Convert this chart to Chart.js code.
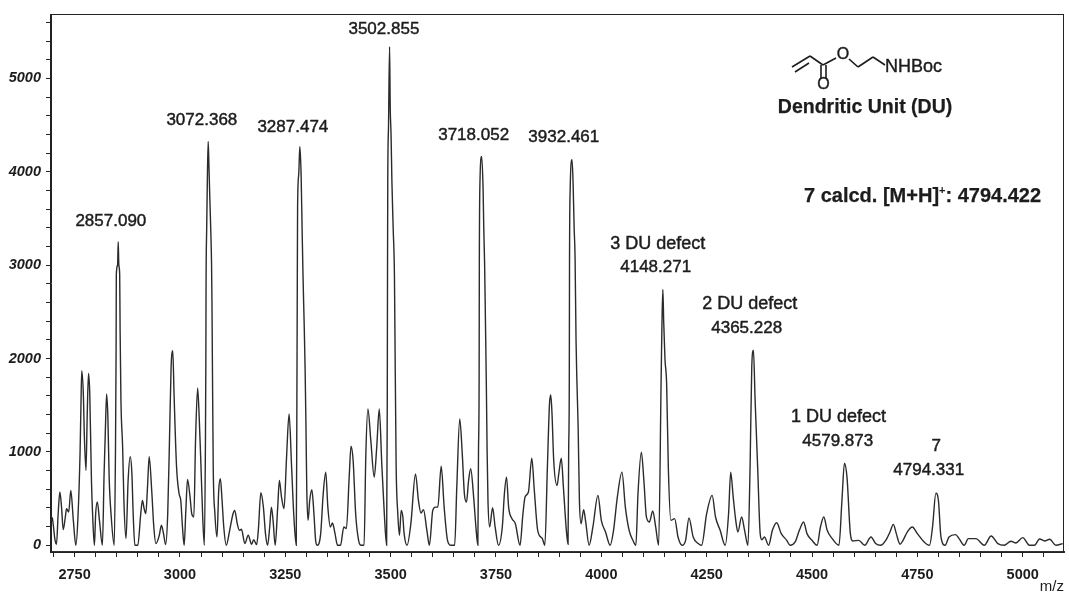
<!DOCTYPE html>
<html>
<head>
<meta charset="utf-8" />
<title>Mass spectrum</title>
<script src="https://cdn.jsdelivr.net/npm/chart.js@4"></script>
<style>
  body { margin: 0; background: #fff; }
  canvas { display: block; }
</style>
</head>
<body>
<canvas id="spectrum" width="1069" height="596"></canvas>
<script>
  // spectrum trace
  const mzValues = [
    2697, 2700, 2703, 2707, 2711, 2715, 2719, 2723, 2728, 2731,
    2736, 2741, 2747, 2753, 2758, 2763, 2765, 2767, 2771, 2773,
    2777, 2780, 2783, 2786, 2790, 2793, 2797, 2800, 2804, 2809,
    2816, 2820, 2823, 2826, 2829, 2832, 2837, 2844, 2847, 2848.5,
    2849, 2852, 2853.5, 2855, 2857, 2858, 2860, 2864, 2867, 2872, 2877, 2882,
    2886, 2889, 2893, 2900, 2907, 2911, 2915, 2919, 2923, 2927,
    2933, 2938, 2943, 2951, 2956, 2961, 2966, 2971, 2975, 2979,
    2983, 2986, 2992, 2998, 3002, 3006, 3010, 3014, 3018, 3024,
    3028, 3033, 3037, 3042, 3046, 3050, 3054, 3058, 3060.5, 3061.5, 3062,
    3063.5, 3065, 3067, 3069, 3071, 3073, 3075, 3076, 3077, 3079, 3083, 3088, 3092, 3096,
    3100, 3104, 3110, 3118, 3126, 3130, 3136, 3141, 3146, 3154,
    3162, 3170, 3175, 3182, 3186, 3192, 3198, 3203, 3208, 3213,
    3217, 3221, 3226, 3232, 3236, 3241, 3247, 3253, 3259, 3265,
    3270, 3276, 3277.5, 3278.5, 3279.2, 3282, 3284.5, 3287.5, 3290, 3292, 3295, 3297, 3299, 3301,
    3304, 3308, 3313, 3318, 3322, 3326, 3334, 3340, 3346, 3351,
    3357, 3362, 3368, 3374, 3381, 3389, 3395, 3402, 3406, 3411,
    3417, 3424, 3430, 3437, 3441, 3446, 3453, 3461, 3467, 3473,
    3479, 3485, 3490.5, 3492, 3492.6, 3493.2, 3495, 3497.5, 3499, 3501, 3503, 3506, 3509, 3510, 3513,
    3517, 3521, 3525, 3529, 3532, 3539, 3548, 3559, 3566, 3572,
    3578, 3586, 3592, 3600, 3606, 3612, 3620, 3627, 3635, 3643,
    3652, 3657, 3664, 3670, 3675, 3680, 3685, 3690, 3697, 3703,
    3707, 3708.5, 3710, 3710.5, 3712, 3716, 3719.5, 3721, 3723, 3725, 3727, 3729, 3731, 3735, 3742,
    3748, 3756, 3765, 3770, 3775, 3780, 3788, 3796, 3807, 3814,
    3819, 3827, 3835, 3841, 3849, 3860, 3866, 3872, 3877, 3880,
    3883, 3887, 3895, 3899, 3905, 3910, 3917, 3921, 3922.5, 3924, 3924.5, 3926,
    3930.5, 3933, 3935.5, 3937.7, 3940, 3942, 3945, 3948, 3952, 3958, 3963, 3971,
    3980, 3992, 4000, 4010, 4021, 4029, 4038, 4049, 4057, 4066,
    4075, 4082, 4087, 4095, 4101, 4107, 4114, 4122, 4129, 4136,
    4142, 4144, 4146, 4148, 4151, 4155, 4159, 4165, 4174, 4182,
    4192, 4200, 4208, 4218, 4230, 4238, 4250, 4263, 4271, 4282,
    4294, 4302, 4307, 4313, 4319, 4324, 4333, 4340, 4348, 4353,
    4357, 4361, 4365, 4371, 4377, 4381, 4387, 4397, 4406, 4416,
    4427, 4440, 4448, 4460, 4470, 4480, 4488, 4500, 4512, 4520,
    4528, 4536, 4548, 4564, 4571, 4577, 4583, 4591, 4597, 4611,
    4625, 4640, 4651, 4663, 4675, 4685, 4693, 4700, 4709, 4716,
    4726, 4738, 4750, 4766, 4779, 4786, 4794, 4800, 4806, 4816,
    4825, 4841, 4849, 4861, 4871, 4889, 4909, 4925, 4941, 4956,
    4972, 4984, 5000, 5016, 5028, 5040, 5052, 5064, 5079, 5095,
  ];
  const intensities = [
    300, 196, 71, 11, 338, 570, 409, 167, 303, 392,
    356, 587, 267, 0, 303, 997, 1477, 1869, 1584, 1193,
    801, 1406, 1840, 1620, 694, 303, 0, 338, 463, 267,
    0, 765, 1228, 1620, 1370, 730, 303, 0, 1000, 2100,
    2900, 3000, 3250, 3000, 2900, 2300, 1549, 1050, 480, 71, 694, 950,
    765, 338, 0, 0, 338, 480, 392, 338, 623, 950,
    587, 196, 18, 107, 214, 125, 7, 338, 1086, 1905,
    2083, 1620, 837, 552, 480, 196, 0, 374, 705, 516,
    338, 303, 1121, 1684, 1335, 837, 303, 0, 1100, 2000, 2800,
    3400, 3900, 4325, 4033, 3700, 3400, 3017, 2600, 1980, 837, 338, 89, 587, 712,
    480, 196, 0, 160, 338, 374, 231, 160, 171, 18,
    107, 11, 60, 7, 160, 562, 409, 125, 0, 196,
    409, 267, 0, 409, 694, 516, 392, 943, 1406, 837,
    338, 0, 1500, 2800, 3622, 3980, 4272, 3980, 3372, 2900, 2334, 1900, 1300, 600,
    267, 480, 594, 338, 53, 0, 125, 552, 783, 409,
    196, 238, 125, 0, 0, 196, 178, 765, 1061, 908,
    338, 53, 0, 0, 943, 1460, 1121, 730, 1050, 1460,
    872, 338, 0, 1500, 2900, 3900, 4500, 5340, 4700, 4400, 3900, 3400, 2900, 2400, 872,
    338, 107, 374, 303, 125, 0, 231, 765, 480, 345,
    381, 160, 0, 374, 409, 409, 847, 409, 53, 0,
    0, 623, 1353, 979, 552, 463, 694, 819, 516, 160,
    0, 1000, 1767, 3017, 3890, 4165, 3800, 3400, 3017, 2400, 1767, 1000, 480, 196, 402,
    196, 0, 196, 552, 730, 409, 285, 231, 0, 338,
    516, 570, 933, 587, 160, 71, 0, 837, 1513, 1609,
    1406, 908, 641, 765, 933, 623, 160, 11, 1000, 1767, 2976, 3800,
    4130, 3876, 3400, 3083, 2195, 1767, 1264, 480, 231, 381, 249, 0,
    196, 534, 267, 142, 0, 160, 516, 783, 409, 160,
    53, 0, 552, 997, 694, 303, 249, 367, 196, 0,
    1798, 2400, 2740, 2400, 2000, 1727, 837, 267, 285, 89,
    0, 53, 292, 89, 18, 0, 338, 534, 303, 160,
    0, 338, 783, 516, 267, 142, 303, 160, 0, 837,
    1905, 2090, 1549, 837, 125, 60, 89, 0, 160, 242,
    125, 53, 0, 36, 160, 249, 125, 53, 0, 196,
    303, 160, 71, 0, 480, 879, 730, 125, 46, 53,
    0, 89, 18, 0, 53, 142, 224, 125, 11, 53,
    142, 196, 125, 36, 0, 196, 559, 480, 89, 0,
    89, 114, 71, 0, 71, 71, 0, 100, 18, 0,
    43, 25, 82, 0, 0, 68, 46, 64, 0, 18,
  ];

  const yTickValues = [
    0, 200, 400, 600, 800, 1000, 1200, 1400, 1600, 1800, 2000, 2200, 2400, 2600, 2800,
    3000, 3200, 3400, 3600, 3800, 4000, 4200, 4400, 4600, 4800, 5000, 5200, 5400, 5600,
  ];

  // peak annotations, placed in data units
  const peakLabels = [
    "2857.090", "3072.368", "3287.474", "3502.855", "3718.052", "3932.461",
    "3 DU defect", "4148.271", "2 DU defect", "4365.228",
    "1 DU defect", "4579.873", "7", "4794.331",
  ];
  const peakLabelMz = [2836, 3052, 3268, 3484, 3697, 3911, 4134, 4129, 4352, 4345, 4563, 4561, 4795, 4777];
  const peakLabelY = [3469, 4550, 4475, 5525, 4390, 4368, 3223, 2976, 2580, 2323, 1370, 1113, 1060, 803];

  const FONT = '"Liberation Sans", Arial, sans-serif';
  const INK = "#1c1c1c";

  // thin outline makes the text as heavy as the scanned original
  function heavyText(ctx, text, x, y, font, weight) {
    ctx.font = font;
    ctx.fillStyle = INK;
    ctx.strokeStyle = INK;
    ctx.lineWidth = weight;
    ctx.fillText(text, x, y);
    ctx.strokeText(text, x, y);
  }

  function bond(ctx, x1, y1, x2, y2) {
    ctx.beginPath();
    ctx.moveTo(x1, y1);
    ctx.lineTo(x2, y2);
    ctx.stroke();
  }

  const framePlugin = {
    id: "frame",
    afterDatasetsDraw(chart) {
      const { ctx, chartArea: a } = chart;
      ctx.save();
      ctx.strokeStyle = "#222";
      ctx.lineWidth = 1;
      ctx.strokeRect(a.left - 0.5, a.top + 0.5, a.right - a.left, a.bottom - a.top);
      ctx.restore();
    },
  };

  const annotationPlugin = {
    id: "annotations",
    afterDraw(chart) {
      const { ctx, scales } = chart;
      ctx.save();
      ctx.textAlign = "center";
      ctx.textBaseline = "middle";
      peakLabels.forEach((text, i) => {
        const size = text.includes("defect") ? "18px " : "17px ";
        heavyText(ctx, text, scales.x.getPixelForValue(peakLabelMz[i]),
          scales.y.getPixelForValue(peakLabelY[i]), size + FONT, 0.45);
      });

      // notes at the top right
      heavyText(ctx, "Dendritic Unit (DU)", 865, 108, "bold 19.5px " + FONT, 0.25);
      ctx.textAlign = "left";
      heavyText(ctx, "7 calcd. [M+H]", 804, 196, "bold 20px " + FONT, 0.25);
      let w = ctx.measureText("7 calcd. [M+H]").width;
      heavyText(ctx, "+", 804 + w, 191, "bold 11px " + FONT, 0.1);
      w += ctx.measureText("+").width;
      heavyText(ctx, ": 4794.422", 804 + w, 196, "bold 20px " + FONT, 0.25);

      // acrylate structure of the dendritic unit
      ctx.strokeStyle = INK;
      ctx.lineWidth = 1.6;
      bond(ctx, 792, 67, 810, 56);
      bond(ctx, 795, 72, 809, 63);
      bond(ctx, 810, 56, 823, 65);
      bond(ctx, 821, 65, 821, 79);
      bond(ctx, 826, 65, 826, 79);
      bond(ctx, 823, 65, 836, 58);
      bond(ctx, 849, 59, 858, 67);
      bond(ctx, 858, 67, 873, 57);
      bond(ctx, 873, 57, 885, 65);
      ctx.textAlign = "center";
      heavyText(ctx, "O", 823.5, 85, "16px " + FONT, 0.4);
      heavyText(ctx, "O", 843, 55, "16px " + FONT, 0.4);
      ctx.textAlign = "left";
      heavyText(ctx, "NHBoc", 885, 67, "18px " + FONT, 0.4);
      ctx.restore();
    },
  };

  new Chart(document.getElementById("spectrum").getContext("2d"), {
    type: "line",
    data: {
      datasets: [
        {
          label: "Spectrum",
          data: mzValues.map((mz, i) => ({ x: mz, y: intensities[i] })),
          borderColor: "#2b2b2b",
          borderWidth: 1.4,
          pointRadius: 0,
          cubicInterpolationMode: "monotone",
          fill: false,
        },
      ],
    },
    options: {
      responsive: false,
      animation: false,
      devicePixelRatio: 1,
      layout: { padding: { top: 14, right: 5, left: 0, bottom: 0 } },
      plugins: { legend: { display: false }, tooltip: { enabled: false } },
      scales: {
        x: {
          type: "linear",
          min: 2694,
          max: 5098,
          afterFit(axis) { axis.height = 44; },
          grid: { drawOnChartArea: false, tickLength: 5, color: "#222" },
          border: { color: "#333", width: 2 },
          title: {
            display: true,
            text: "m/z",
            align: "end",
            color: INK,
            font: { family: FONT, size: 15 },
            padding: { top: 0, bottom: 0 },
          },
          ticks: {
            stepSize: 50,
            includeBounds: false,
            autoSkip: false,
            maxRotation: 0,
            padding: 9,
            color: INK,
            font: { family: FONT, size: 14.5, weight: "bold" },
            callback: (v) => (v % 250 === 0 ? String(v) : ""),
          },
        },
        y: {
          min: -72,
          max: 5690,
          afterFit(axis) { axis.width = 51; },
          afterBuildTicks(axis) { axis.ticks = yTickValues.map((value) => ({ value })); },
          grid: { drawOnChartArea: false, tickLength: 5, color: "#222" },
          border: { color: "#222", width: 1 },
          ticks: {
            autoSkip: false,
            padding: 5,
            color: INK,
            font: { family: FONT, size: 14.5, weight: "bold", style: "italic" },
            callback: (v) => (v % 1000 === 0 ? String(v) : ""),
          },
        },
      },
    },
    plugins: [framePlugin, annotationPlugin],
  });
</script>
</body>
</html>
